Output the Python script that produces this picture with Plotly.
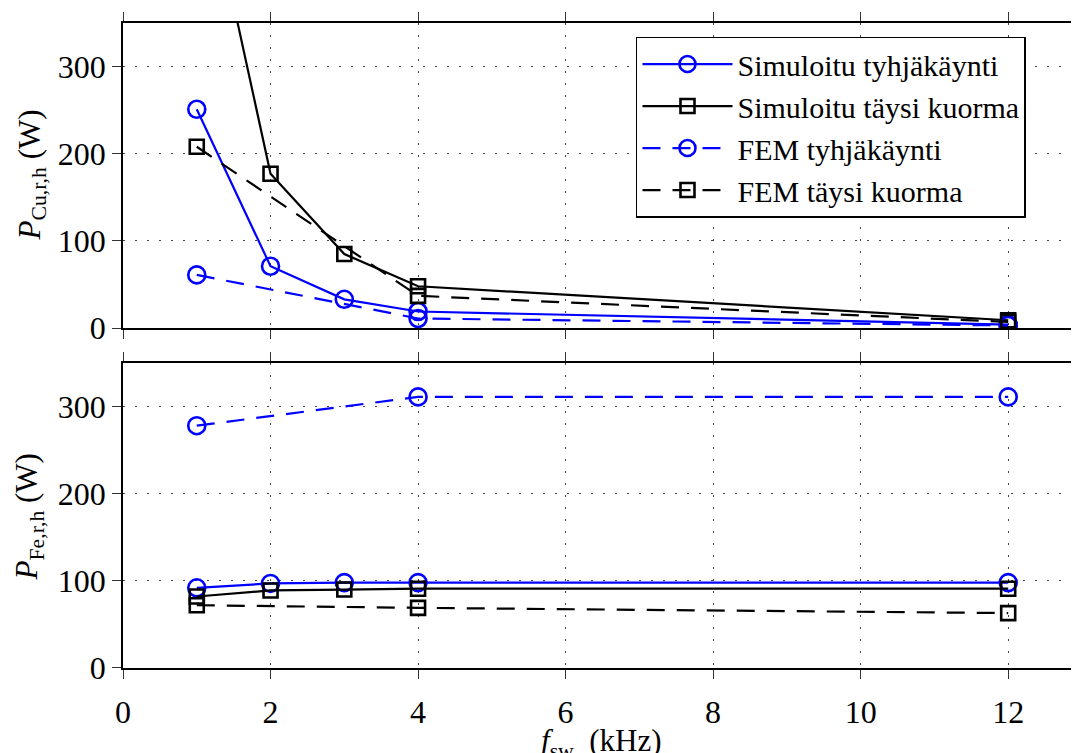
import plotly.graph_objects as go
from plotly.subplots import make_subplots

# ---- data ----
f_sim = [1, 2, 3, 4, 12]
f_fem = [1, 4, 12]
cu_sim_noload = [251, 71, 33, 19, 4]
cu_sim_full = [565, 177, 85, 48, 9]
cu_fem_noload = [61, 11, 3]
cu_fem_full = [208, 37, 7]
fe_sim_noload = [92, 97, 98, 98, 98]
fe_sim_full = [82, 89, 90, 91, 91]
fe_fem_noload = [278, 311, 311]
fe_fem_full = [72, 69, 63]
names = ["Simuloitu tyhjäkäynti", "Simuloitu täysi kuorma", "FEM tyhjäkäynti", "FEM täysi kuorma"]
xticks = [0, 2, 4, 6, 8, 10, 12]
yticks = [0, 100, 200, 300]

FONT = "'Liberation Serif', 'DejaVu Serif', 'Times New Roman', serif"
BLUE = "#0000FF"
BLACK = "#000000"
DASH = "18px,12px"

fig = make_subplots(rows=2, cols=1, shared_xaxes=False, vertical_spacing=0.054)

styles = [
    dict(color=BLUE, dash="solid", symbol="circle-open", size=17),
    dict(color=BLACK, dash="solid", symbol="square-open", size=14),
    dict(color=BLUE, dash=DASH, symbol="circle-open", size=17),
    dict(color=BLACK, dash=DASH, symbol="square-open", size=14),
]

top = [(f_sim, cu_sim_noload), (f_sim, cu_sim_full), (f_fem, cu_fem_noload), (f_fem, cu_fem_full)]
bot = [(f_sim, fe_sim_noload), (f_sim, fe_sim_full), (f_fem, fe_fem_noload), (f_fem, fe_fem_full)]

for i, ((x, y), st) in enumerate(zip(top, styles)):
    fig.add_trace(go.Scatter(
        x=x, y=y, mode="lines+markers", name=names[i], showlegend=True,
        line=dict(color=st["color"], width=2.2, dash=st["dash"]),
        marker=dict(symbol=st["symbol"], size=st["size"], color=st["color"],
                    line=dict(color=st["color"], width=2.6)),
    ), row=1, col=1)

for i, ((x, y), st) in enumerate(zip(bot, styles)):
    fig.add_trace(go.Scatter(
        x=x, y=y, mode="lines+markers", name=names[i], showlegend=False,
        line=dict(color=st["color"], width=2.2, dash=st["dash"]),
        marker=dict(symbol=st["symbol"], size=st["size"], color=st["color"],
                    line=dict(color=st["color"], width=2.6)),
    ), row=2, col=1)

axis_common = dict(
    showline=True, linecolor="black", linewidth=1.8,
    ticks="outside", ticklen=9, tickwidth=1.4, tickcolor="#333",
    showgrid=True, gridcolor="#444", gridwidth=1.2, griddash="2px,10px",
    zeroline=False, automargin=False,
    tickfont=dict(family=FONT, size=32, color="black"),
)

fig.update_xaxes(**axis_common, range=[0, 12.96], tickvals=xticks, mirror="allticks")
fig.update_xaxes(showticklabels=False, row=1, col=1)
fig.update_xaxes(ticklabelstandoff=6, row=2, col=1)
fig.update_yaxes(**axis_common, range=[0, 350], tickvals=yticks, mirror=False)

fig.update_layout(
    xaxis=dict(domain=[0, 1]),
    yaxis=dict(domain=[0.527, 1.0]),
    yaxis2=dict(domain=[0.0, 0.473]),
)

fig.add_annotation(text="<i>P</i><sub>Cu,r,h</sub> (W)", xref="paper", yref="paper",
                   x=-0.095, y=0.764, textangle=-90, showarrow=False,
                   xanchor="center", yanchor="middle",
                   font=dict(family=FONT, size=31, color="black"))
fig.add_annotation(text="<i>P</i><sub>Fe,r,h</sub> (W)", xref="paper", yref="paper",
                   x=-0.098, y=0.234, textangle=-90, showarrow=False,
                   xanchor="center", yanchor="middle",
                   font=dict(family=FONT, size=31, color="black"))
fig.add_annotation(text="<i>f</i><sub>sw</sub>  (kHz)", xref="paper", yref="paper",
                   x=0.5, y=-0.116, showarrow=False,
                   xanchor="center", yanchor="middle",
                   font=dict(family=FONT, size=31, color="black"))

# page body has an 8px default margin: shrink the figure so the plot lands
# where the reference has it inside the 1079x753 window
fig.update_layout(
    width=1071, height=745,
    margin=dict(l=115, r=0, t=15, b=85, autoexpand=False),
    paper_bgcolor="white", plot_bgcolor="white",
    font=dict(family=FONT),
    showlegend=True,
    legend=dict(
        x=0.5366, y=0.979, xanchor="left", yanchor="top",
        bgcolor="white", bordercolor="black", borderwidth=1.5,
        font=dict(family=FONT, size=30, color="black"),
        itemwidth=90, tracegroupgap=0,
    ),
)

fig.write_html("out.html")
